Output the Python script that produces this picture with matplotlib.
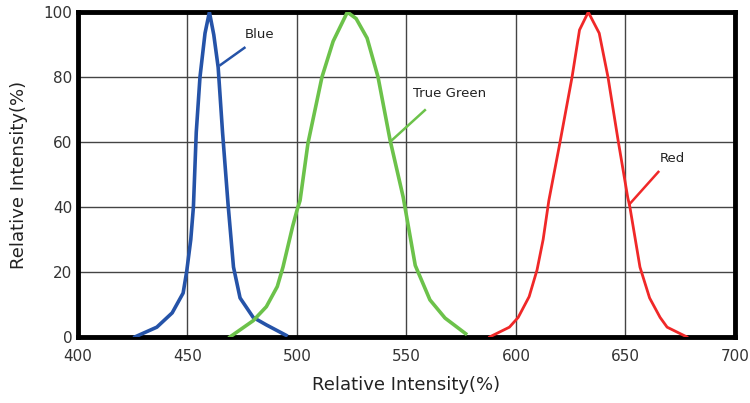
import matplotlib.pyplot as plt

# spectra (wavelength nm, relative intensity %)
blue_x = [426, 436, 443, 448, 449.6, 451.5, 452.7, 454, 455.7, 458, 460,
          462, 464, 466, 468.5, 471, 474, 480, 486, 495]
blue_y = [0, 3, 7.4, 13.5, 20, 30, 40, 63, 80, 93.5, 100,
          93, 83, 63, 41, 21.5, 12, 6, 3.7, 0.5]

green_x = [469.4, 480, 486, 491, 493.6, 498, 500, 501.4, 505, 511.4, 516.5,
           523, 527, 532, 537, 542.5, 548.5, 554, 560.7, 567.6, 577]
green_y = [0, 5, 9.3, 15.5, 21.5, 34, 39, 42, 59.6, 80, 91,
           100, 98, 92, 80, 60.6, 43, 22, 11.4, 5.8, 1]

red_x = [588, 597, 601, 606, 609.6, 612.4, 615, 620, 625.6, 629, 633,
         638, 642, 646.6, 651, 652, 656.6, 661, 665.8, 669, 678]
red_y = [0, 3, 6, 12.4, 20.6, 30, 42, 59.6, 80, 94.5, 100,
         93.5, 80, 60.6, 43, 40, 21.5, 12, 6, 3, 0]

labels = ['Blue', 'True Green', 'Red']
text_xy = [(476, 91), (553, 73), (665.5, 53)]
line_end = [(476, 89), (558.4, 69.8), (665, 50.8)]
point_xy = [(465, 83.7), (543.4, 60.6), (652, 41)]
colors = ['#2553a8', '#6cc24a', '#f02828']

fig = plt.figure(figsize=(7.5, 4.03), dpi=100)
ax = fig.add_axes([0.104, 0.164, 0.876, 0.806])

ax.plot(blue_x, blue_y, color=colors[0], lw=2.6, zorder=3)
ax.plot(green_x, green_y, color=colors[1], lw=2.6, zorder=3)
ax.plot(red_x, red_y, color=colors[2], lw=2.0, zorder=3)

for lab, (tx, ty), (ex, ey), (px, py), c in zip(labels, text_xy, line_end,
                                                 point_xy, colors):
    ax.plot([px, ex], [py, ey], color=c, lw=1.8, zorder=3)
    ax.text(tx, ty, lab, fontsize=9.5, color='#222222',
            ha='left', va='bottom')

ax.set_xlim(400, 700)
ax.set_ylim(0, 100)
ax.set_xticks(range(400, 701, 50))
ax.set_yticks(range(0, 101, 20))
ax.grid(True, color='#444444', lw=1.0)
ax.set_axisbelow(True)
ax.tick_params(length=0, labelsize=11, colors='#333333')
ax.tick_params(axis='x', pad=9)
ax.tick_params(axis='y', pad=4)
for s in ax.spines.values():
    s.set_linewidth(3.5)
    s.set_color('black')

ax.set_xlabel('Relative Intensity(%)', fontsize=13, color='#222222', labelpad=8)
ax.set_ylabel('Relative Intensity(%)', fontsize=13, color='#222222', labelpad=11)

fig.savefig('out.png', dpi=100)
